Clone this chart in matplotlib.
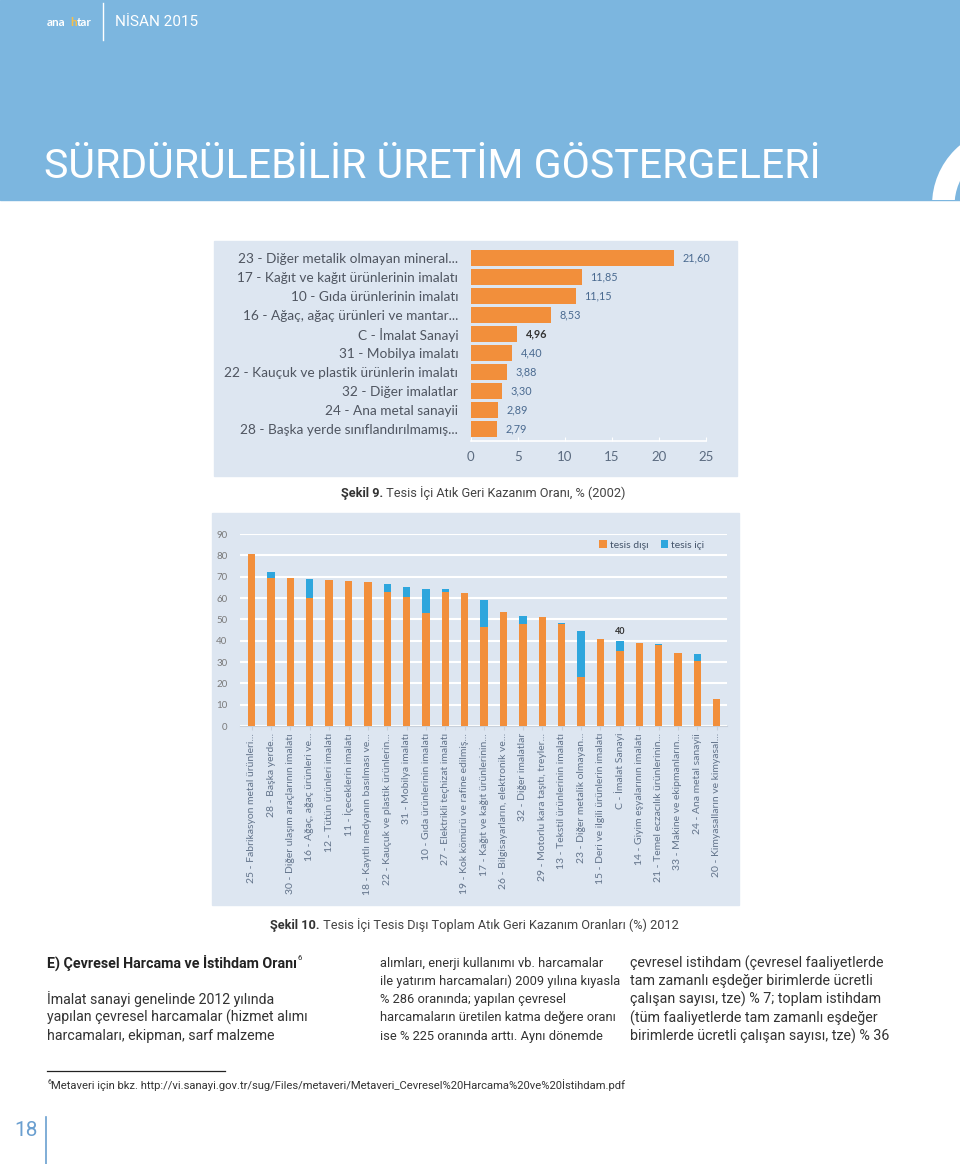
import matplotlib
matplotlib.use("Agg")
import matplotlib.pyplot as plt
from matplotlib.patches import Rectangle, Circle
import numpy as np

# ---------------- data ----------------
# Şekil 9 - tesis içi atık geri kazanım oranı, % (2002)
labels1 = [
	"23 - Diğer metalik olmayan mineral...",
	"17 - Kağıt ve kağıt ürünlerinin imalatı",
	"10 - Gıda ürünlerinin imalatı",
	"16 - Ağaç, ağaç ürünleri ve mantar...",
	"C - İmalat Sanayi",
	"31 - Mobilya imalatı",
	"22 - Kauçuk ve plastik ürünlerin imalatı",
	"32 - Diğer imalatlar",
	"24 - Ana metal sanayii",
	"28 - Başka yerde sınıflandırılmamış...",
]
values1 = [21.60, 11.85, 11.15, 8.53, 4.96, 4.40, 3.88, 3.30, 2.89, 2.79]
ticks1 = [0, 5, 10, 15, 20, 25]

# Şekil 10 - tesis içi / tesis dışı geri kazanım oranları (%) 2012
labels2 = [
	"25 - Fabrikasyon metal ürünleri...",
	"28 - Başka yerde...",
	"30 - Diğer ulaşım araçlarının imalatı",
	"16 - Ağaç, ağaç ürünleri ve...",
	"12 - Tütün ürünleri imalatı",
	"11 - İçeceklerin imalatı",
	"18 - Kayıtlı medyanın basılması ve...",
	"22 - Kauçuk ve plastik ürünlerin...",
	"31 - Mobilya imalatı",
	"10 - Gıda ürünlerinin imalatı",
	"27 - Elektrikli teçhizat imalatı",
	"19 - Kok kömürü ve rafine edilmiş...",
	"17 - Kağıt ve kağıt ürünlerinin...",
	"26 - Bilgisayarların, elektronik ve...",
	"32 - Diğer imalatlar",
	"29 - Motorlu kara taşıtı, treyler...",
	"13 - Tekstil ürünlerinin imalatı",
	"23 - Diğer metalik olmayan...",
	"15 - Deri ve ilgili ürünlerin imalatı",
	"C - İmalat Sanayi",
	"14 - Giyim eşyalarının imalatı",
	"21 - Temel eczacılık ürünlerinin...",
	"33 - Makine ve ekipmanların...",
	"24 - Ana metal sanayii",
	"20 - Kimyasalların ve kimyasal...",
]
tesis_disi = [80.5, 69.5, 69.5, 60.2, 68.4, 67.8, 67.4, 62.6, 60.6, 53.0, 62.8, 62.2,
	46.6, 53.3, 48.0, 51.3, 47.8, 22.8, 40.6, 35.2, 38.8, 38.0, 34.0, 30.6, 12.5]
tesis_ici = [0.0, 2.6, 0.0, 8.7, 0.0, 0.0, 0.0, 4.0, 4.6, 11.4, 1.3, 0.0,
	12.5, 0.0, 3.6, 0.0, 0.7, 21.9, 0.0, 4.8, 0.0, 0.4, 0.3, 3.0, 0.0]
ticks2 = [0, 10, 20, 30, 40, 50, 60, 70, 80, 90]
label_c = "40"

ORANGE = "#f28f3b"
BLUE = "#2ea6dd"
BOX = "#dde6f1"
HEAD = "#7cb6df"
NARROW = ["Roboto", "DejaVu Sans"]
CHART = ["Lato", "DejaVu Sans"]

W, H = 960, 1164
fig = plt.figure(figsize=(W / 100, H / 100), dpi=100)

# background axes in pixel coordinates
bg = fig.add_axes([0, 0, 1, 1])
bg.set_xlim(0, W)
bg.set_ylim(H, 0)
bg.axis("off")

def px_axes(x0, y0, x1, y1):
	return fig.add_axes([x0 / W, 1 - y1 / H, (x1 - x0) / W, (y1 - y0) / H])

#region ------------- header -------------
bg.add_patch(Rectangle((0, 0), W, 200, color=HEAD, zorder=0))
ring = Circle((1010, 205), 66.7, fill=False, ec="white", lw=16.2, zorder=1)
bg.add_patch(ring)
ring.set_clip_path(Rectangle((0, 0), W, 200, transform=bg.transData))
bg.plot([103, 103], [3, 40], color="white", lw=1)
bg.text(47, 22, "ana", color="white", fontsize=8.5, fontweight="bold", family=CHART, va="center", ha="left")
bg.text(70, 22, "h", color="#f5c04a", fontsize=8.5, fontweight="bold", family=CHART, va="center", ha="left")
bg.text(77, 22, "tar", color="white", fontsize=8.5, fontweight="bold", family=CHART, va="center", ha="left")
bg.text(115, 22, "NİSAN 2015", color="white", fontsize=11, family=NARROW, va="center", ha="left")
bg.text(44, 166, "SÜRDÜRÜLEBİLİR ÜRETİM GÖSTERGELERİ", color="white", fontsize=29.6,
	family=NARROW, va="center", ha="left")
#endregion

#region ------------- Şekil 9 -------------
bg.add_patch(Rectangle((214, 241), 523, 235, color=BOX, zorder=0))
ax1 = px_axes(470.7, 248.5, 705.7, 441)
ax1.set_facecolor("none")
y1 = np.arange(len(values1))
ax1.barh(y1, values1, height=0.84, color=ORANGE)
ax1.set_xlim(0, 25)
ax1.set_ylim(9.63, -0.5)
ax1.set_xticks(ticks1)
ax1.set_xticklabels([str(t) for t in ticks1], fontsize=9.5, color="#5b6b80", family=CHART)
ax1.set_yticks(y1)
ax1.set_yticklabels(labels1, fontsize=9.8, color="#4f5560", family=CHART)
ax1.tick_params(axis="y", length=0, pad=9)
ax1.tick_params(axis="x", direction="in", length=3, color="white", pad=7)
for s in ["top", "right", "left"]:
	ax1.spines[s].set_visible(False)
ax1.spines["bottom"].set_color("white")
ax1.spines["bottom"].set_linewidth(1.2)
for i, v in enumerate(values1):
	txt = "{:.2f}".format(v).replace(".", ",")
	bold = labels1[i].startswith("C -")
	ax1.annotate(txt, (v, i), xytext=(6, 0), textcoords="offset points", va="center", ha="left",
		fontsize=7.8, family=CHART, fontweight="bold" if bold else "normal",
		color="#333333" if bold else "#4a6a90")

cap9 = bg.text(341, 493, "Şekil 9.", fontsize=9.2, fontweight="bold", family=NARROW, va="center", ha="left", color="#333333")
bg.annotate(" Tesis İçi Atık Geri Kazanım Oranı, % (2002)", xy=(1, 0.5), xycoords=cap9, va="center", ha="left",
	fontsize=9.2, family=NARROW, color="#444444")
#endregion

#region ------------- Şekil 10 -------------
bg.add_patch(Rectangle((212, 513), 527, 392, color=BOX, zorder=0))
ax2 = px_axes(240, 534, 727, 726)
ax2.set_facecolor("none")
x2 = np.arange(len(labels2))
ax2.bar(x2, tesis_disi, width=0.38, color=ORANGE, label="tesis dışı", zorder=3)
ax2.bar(x2, tesis_ici, width=0.38, bottom=tesis_disi, color=BLUE, label="tesis içi", zorder=3)
ax2.set_xlim(-0.6, 24.53)
ax2.set_ylim(0, 90)
ax2.set_yticks(ticks2)
ax2.set_yticklabels([str(t) for t in ticks2], fontsize=7, color="#7a7a7a", family=CHART)
ax2.set_xticks(x2)
ax2.set_xticklabels(labels2, rotation=90, fontsize=7.5, color="#62738a", family=CHART, va="top", ha="center")
ax2.tick_params(axis="y", length=0, pad=9)
ax2.tick_params(axis="x", length=3, color="#c8d0da", pad=2)
ax2.grid(axis="y", color="white", lw=1.5, zorder=0)
for s in ["top", "right", "left"]:
	ax2.spines[s].set_visible(False)
ax2.spines["bottom"].set_color("#c8d0da")
ic = labels2.index("C - İmalat Sanayi")
ax2.annotate(label_c, (ic, tesis_disi[ic] + tesis_ici[ic]), xytext=(0, 3), textcoords="offset points",
	ha="center", va="bottom", fontsize=6.5, fontweight="bold", color="#333333", family=CHART)
leg = ax2.legend(loc="center", bbox_to_anchor=(0.846, 0.943), ncol=2, frameon=False,
	handlelength=0.7, handleheight=0.7, handletextpad=0.3, columnspacing=1.2, prop={"family": CHART, "size": 7.5})
for t in leg.get_texts():
	t.set_color("#44546a")

cap10 = bg.text(270, 925, "Şekil 10.", fontsize=9.2, fontweight="bold", family=NARROW, va="center", ha="left", color="#333333")
bg.annotate(" Tesis İçi Tesis Dışı Toplam Atık Geri Kazanım Oranları (%) 2012", xy=(1, 0.5), xycoords=cap10,
	va="center", ha="left", fontsize=9.2, family=NARROW, color="#444444")
#endregion

#region ------------- body text -------------
LINE = 18.3
head = bg.text(47, 963, "E) Çevresel Harcama ve İstihdam Oranı", fontsize=10.3, fontweight="bold", family=NARROW,
	va="center", ha="left", color="#222222")
bg.annotate("6", xy=(1, 1), xycoords=head, va="top", ha="left", fontsize=5.5, family=NARROW, color="#222222")
col1 = ["İmalat sanayi genelinde 2012 yılında",
	"yapılan çevresel harcamalar (hizmet alımı",
	"harcamaları, ekipman, sarf malzeme"]
col2 = ["alımları, enerji kullanımı vb. harcamalar",
	"ile yatırım harcamaları) 2009 yılına kıyasla",
	"% 286 oranında; yapılan çevresel",
	"harcamaların üretilen katma değere oranı",
	"ise % 225 oranında arttı. Aynı dönemde"]
col3 = ["çevresel istihdam (çevresel faaliyetlerde",
	"tam zamanlı eşdeğer birimlerde ücretli",
	"çalışan sayısı, tze) % 7; toplam istihdam",
	"(tüm faaliyetlerde tam zamanlı eşdeğer",
	"birimlerde ücretli çalışan sayısı, tze) % 36"]
for k, line in enumerate(col1):
	bg.text(47, 999 + k * LINE, line, fontsize=10.2, family=NARROW, va="center", ha="left", color="#333333")
for k, line in enumerate(col2):
	bg.text(380, 963 + k * LINE, line, fontsize=9.3, family=NARROW, va="center", ha="left", color="#333333")
for k, line in enumerate(col3):
	bg.text(630, 963 + k * LINE, line, fontsize=10.3, family=NARROW, va="center", ha="left", color="#333333")

bg.plot([47, 225], [1071, 1071], color="#222222", lw=0.9)
fn = bg.text(47, 1082, "6", fontsize=5, family=NARROW, va="center", ha="left", color="#333333")
bg.annotate("Metaveri için bkz. http://vi.sanayi.gov.tr/sug/Files/metaveri/Metaveri_Cevresel%20Harcama%20ve%20İstihdam.pdf",
	xy=(1, 0), xycoords=fn, va="center", ha="left", fontsize=8.1, family=NARROW, color="#333333")

bg.text(38, 1130, "18", fontsize=15, family=NARROW, va="center", ha="right", color="#6a9fd0")
bg.plot([46, 46], [1117, 1164], color="#6a9fd0", lw=1.2)
#endregion

fig.savefig("out.png", dpi=100)
